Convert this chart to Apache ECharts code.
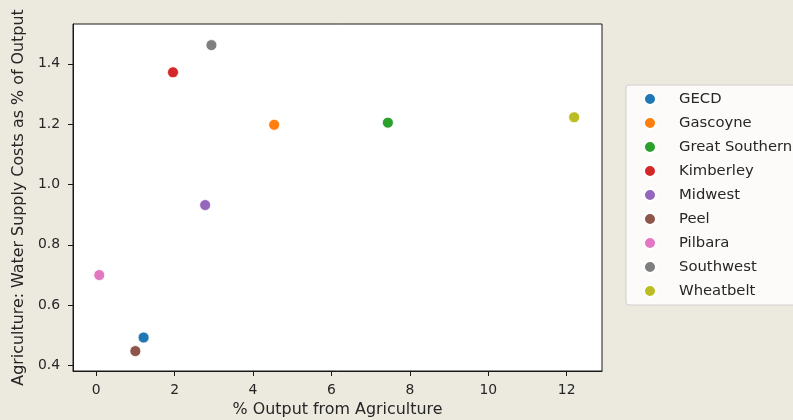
<!DOCTYPE html>
<html>
<head>
<meta charset="utf-8">
<script src="https://cdn.jsdelivr.net/npm/echarts@6/dist/echarts.min.js"></script>
<style>
  html, body { margin: 0; padding: 0; background: #ECE9DF; }
  #chart { width: 793px; height: 420px; }
</style>
</head>
<body>
<div id="chart"></div>
<script>
// Regions and their agriculture figures
const regions = ['GECD', 'Gascoyne', 'Great Southern', 'Kimberley', 'Midwest', 'Peel', 'Pilbara', 'Southwest', 'Wheatbelt'];
const outputPct = [1.21, 4.54, 7.44, 1.96, 2.78, 1.00, 0.08, 2.94, 12.19];
const waterCostPct = [0.493, 1.198, 1.205, 1.372, 0.932, 0.448, 0.700, 1.462, 1.223];
const palette = ['#1f77b4', '#ff7f0e', '#2ca02c', '#d62728', '#9467bd', '#8c564b', '#e377c2', '#7f7f7f', '#bcbd22'];

const xTicks = [0, 2, 4, 6, 8, 10, 12];
const yTicks = [0.4, 0.6, 0.8, 1.0, 1.2, 1.4];

const FONT = 'DejaVu Sans';
const TXT = '#262626';

const chart = echarts.init(document.getElementById('chart'), null, { renderer: 'canvas' });

const series = regions.map((name, i) => ({
  name: name,
  type: 'scatter',
  symbol: 'circle',
  symbolSize: 11,
  itemStyle: { color: palette[i], borderColor: '#ffffff', borderWidth: 0.8, opacity: 1 },
  data: [[outputPct[i], waterCostPct[i]]],
  emphasis: { disabled: true }
}));

chart.setOption({
  backgroundColor: '#ECE9DF',
  animation: false,
  textStyle: { fontFamily: FONT },
  grid: {
    left: 73, top: 24, right: 191, bottom: 49,
    outerBoundsMode: 'none',
    containLabel: false,
    show: true, backgroundColor: '#ffffff', borderColor: '#1a1a1a', borderWidth: 1
  },
  xAxis: {
    type: 'value',
    min: -0.59, max: 12.9,
    name: '% Output from Agriculture',
    nameLocation: 'middle',
    nameGap: 31,
    nameTextStyle: { fontFamily: FONT, fontSize: 15.9, color: TXT },
    axisLine: { show: true, onZero: false, lineStyle: { color: '#1a1a1a', width: 1 } },
    axisTick: { show: true, length: 5, customValues: xTicks, lineStyle: { color: '#1a1a1a' } },
    axisLabel: { customValues: xTicks, margin: 12, fontFamily: FONT, fontSize: 13.9, color: TXT },
    splitLine: { show: false }
  },
  yAxis: {
    type: 'value',
    min: 0.382, max: 1.532,
    name: 'Agriculture: Water Supply Costs as % of Output',
    nameLocation: 'middle',
    nameRotate: 90,
    nameGap: 43,
    nameTextStyle: { fontFamily: FONT, fontSize: 15.9, color: TXT },
    axisLine: { show: true, onZero: false, lineStyle: { color: '#1a1a1a', width: 1 } },
    axisTick: { show: true, length: 5, customValues: yTicks, lineStyle: { color: '#1a1a1a' } },
    axisLabel: {
      customValues: yTicks, margin: 13, fontFamily: FONT, fontSize: 13.9, color: TXT,
      formatter: v => v.toFixed(1)
    },
    splitLine: { show: false }
  },
  legend: {
    orient: 'vertical',
    left: 626, top: 85,
    padding: [6, 12, 6, 17],
    itemWidth: 12, itemHeight: 12,
    itemGap: 8,
    icon: 'circle',
    backgroundColor: 'rgba(252,251,249,1)',
    borderColor: '#cfcfcf', borderWidth: 1, borderRadius: 3,
    textStyle: { fontFamily: FONT, fontSize: 14.8, color: TXT, lineHeight: 16, padding: [0, 0, 0, 18] },
    selectedMode: false,
    data: regions
  },
  series: series
});
</script>
</body>
</html>
